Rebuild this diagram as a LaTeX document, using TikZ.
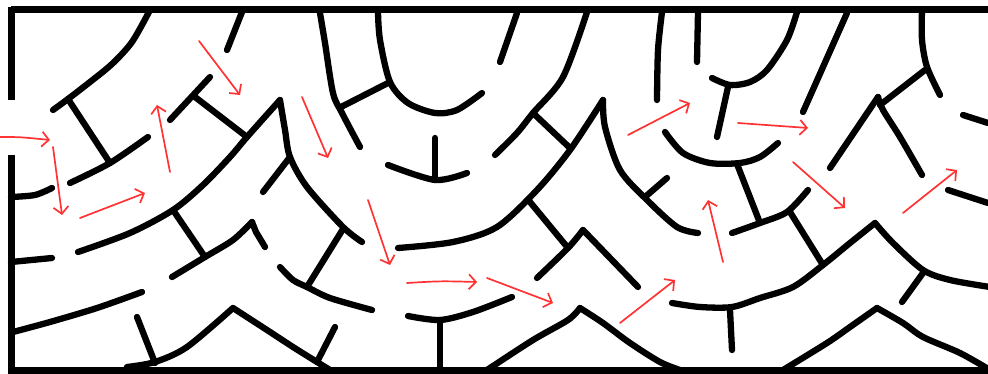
\documentclass[tikz,border=0pt]{standalone}
\usetikzlibrary{arrows.meta}
\definecolor{arrred}{HTML}{FF3333}
\begin{document}
\begin{tikzpicture}[x=1pt,y=-1pt,
  wall/.style={line width=6.3pt, line cap=round, line join=round, black},
  frame/.style={line width=7pt, black},
  arr/.style={line width=1.7pt, arrred, line cap=round, -{Straight Barb[length=7pt,width=15pt,line width=1.7pt]}}]
\useasboundingbox (0,0) rectangle (988,374);
% frame
\draw[frame] (11,10) -- (992,10);
\draw[frame] (8,370) -- (992,370);
\draw[frame] (11,7) -- (11,100);
\draw[frame] (11,155) -- (11,373);
% ---- left part
\draw[wall] plot[smooth] coordinates {(150,10) (132,42) (112,64) (90,82) (68,99) (53,110)};
\draw[wall] (68,99) -- (110,163);
\draw[wall] plot[smooth] coordinates {(70,183) (110,163) (148,137)};
\draw[wall] (242,12) -- (227,50);
\draw[wall] (210,77) -- (170,120);
\draw[wall] (195,97) -- (247,137);
\draw[wall] plot[smooth] coordinates {(280,100) (247,137) (230,157) (203,185) (173,210) (130,233) (78,252)};
\draw[wall] (173,210) -- (205,257);
\draw[wall] plot[smooth] coordinates {(172,277) (205,257) (233,240) (252,222)};
\draw[wall] (252,222) -- (256,232) -- (265,247);
\draw[wall] plot[smooth] coordinates {(280,100) (285,130) (290,157) (307,187) (343,227) (362,242)};
\draw[wall] (290,157) -- (263,192);
\draw[wall] plot[smooth] coordinates {(11,197) (35,195) (52,188)};
\draw[wall] plot[smooth] coordinates {(11,262) (52,258)};
\draw[wall] plot[smooth] coordinates {(13,332) (50,322) (97,308) (142,292)};
\draw[wall] plot[smooth] coordinates {(280,267) (293,280) (307,287) (330,298) (372,310)};
\draw[wall] (307,287) -- (343,229);
\draw[wall] (137,317) -- (155,363);
\draw[wall] plot[smooth] coordinates {(127,367) (155,362) (187,347) (233,308)};
\draw[wall] plot[smooth] coordinates {(233,308) (267,330) (293,347) (317,362) (330,370)};
\draw[wall] (317,362) -- (335,327);
% ---- middle upper
\draw[wall] plot[smooth] coordinates {(320,13) (325,43) (333,93) (342,113) (360,147)};
\draw[wall] (341,107) -- (390,82);
\draw[wall] plot[smooth] coordinates {(378,12) (380,40) (390,82) (408,103) (435,113) (457,110) (482,93)};
\draw[wall] (435,138) -- (435,180);
\draw[wall] plot[smooth] coordinates {(388,165) (435,180) (467,173)};
\draw[wall] (517,13) -- (500,62);
\draw[wall] plot[smooth] coordinates {(587,12) (563,77) (533,113) (517,133) (495,155)};
\draw[wall] (533,113) -- (570,148);
\draw[wall] plot[smooth] coordinates {(603,100) (570,150) (537,190) (497,227) (453,242) (398,248)};
\draw[wall] (530,202) -- (568,248);
\draw[wall] plot[smooth] coordinates {(537,278) (568,248) (583,230)};
\draw[wall] (583,230) -- (638,287);
\draw[wall] plot[smooth] coordinates {(603,100) (605,127) (620,170) (647,200) (677,227) (698,233)};
\draw[wall] (645,197) -- (667,178);
\draw[wall] plot[smooth] coordinates {(408,316) (440,320) (473,312) (512,297)};
\draw[wall] (440,320) -- (440,370);
\draw[wall] plot[smooth] coordinates {(487,370) (533,340) (568,320) (580,308)};
\draw[wall] plot[smooth] coordinates {(580,308) (603,323) (630,343) (660,362) (680,370)};
% ---- right part
\draw[wall] plot[smooth] coordinates {(662,12) (658,50) (657,100)};
\draw[wall] (698,12) -- (697,62);
\draw[wall] plot[smooth] coordinates {(712,78) (730,85) (750,82) (767,70) (787,40) (797,12)};
\draw[wall] (728,87) -- (717,137);
\draw[wall] plot[smooth] coordinates {(665,132) (683,153) (710,163) (740,163) (760,157) (778,143)};
\draw[wall] (737,164) -- (760,223);
\draw[wall] plot[smooth] coordinates {(732,233) (760,223) (787,212) (808,190)};
\draw[wall] (790,212) -- (823,265);
\draw[wall] (847,13) -- (803,112);
\draw[wall] (878,97) -- (830,168);
\draw[wall] plot[smooth] coordinates {(878,97) (883,110) (900,137) (922,175)};
\draw[wall] (880,105) -- (925,70);
\draw[wall] plot[smooth] coordinates {(922,10) (922,40) (927,67) (940,95)};
\draw[wall] plot[smooth] coordinates {(963,115) (988,123)};
\draw[wall] plot[smooth] coordinates {(948,190) (988,203)};
\draw[wall] plot[smooth] coordinates {(672,303) (700,307) (732,307) (760,298) (793,287) (823,265) (850,243) (875,223)};
\draw[wall] plot[smooth] coordinates {(875,223) (893,243) (923,270) (950,280) (990,287)};
\draw[wall] (923,273) -- (902,302);
\draw[wall] (730,310) -- (732,350);
\draw[wall] plot[smooth] coordinates {(783,370) (827,343) (850,327) (877,308)};
\draw[wall] plot[smooth] coordinates {(877,308) (903,323) (923,337) (960,353) (990,370)};
% ---- red arrows
\draw[arr] (0,137) .. controls (20,137) .. (50,140);
\draw[arr] (53,147) -- (62,215);
\draw[arr] (80,218) -- (145,193);
\draw[arr] (170,172) -- (157,105);
\draw[arr] (199,41) -- (240,95);
\draw[arr] (302,97) -- (328,158);
\draw[arr] (368,200) -- (390,265);
\draw[arr] (407,283) .. controls (440,281) .. (477,282);
\draw[arr] (487,278) -- (553,303);
\draw[arr] (620,323) -- (675,280);
\draw[arr] (723,262) -- (708,200);
\draw[arr] (628,135) -- (690,103);
\draw[arr] (738,123) -- (808,128);
\draw[arr] (793,162) -- (845,208);
\draw[arr] (903,213) -- (957,170);
\end{tikzpicture}
\end{document}
